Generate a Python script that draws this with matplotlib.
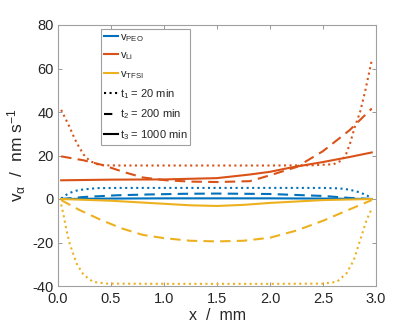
import matplotlib
matplotlib.use('Agg')
import matplotlib.pyplot as plt
from matplotlib.lines import Line2D

plt.rcParams['font.family'] = ['Liberation Sans', 'DejaVu Sans']
plt.rcParams['mathtext.fontset'] = 'custom'
plt.rcParams['mathtext.rm'] = 'Liberation Sans'
plt.rcParams['mathtext.it'] = 'Liberation Sans'

blue = '#0072BD'
orange = '#D95319'
yellow = '#EDB120'

# Li velocity
x_li_1 = [0.03, 0.08, 0.11, 0.15, 0.18, 0.24, 0.30, 0.37, 0.43, 0.6, 1.0, 1.5, 2.0, 2.4, 2.6, 2.68, 2.72, 2.755, 2.80, 2.85, 2.896, 2.93, 2.96]
v_li_1 = [41.0, 36.0, 33.0, 28.5, 25.5, 20.5, 17.5, 16.0, 15.5, 15.4, 15.4, 15.4, 15.4, 15.5, 16.0, 17.8, 20.9, 25.5, 33.1, 40.0, 49.2, 56.9, 63.8]
x_li_2 = [0.03, 0.24, 0.43, 0.62, 0.80, 1.02, 1.25, 1.5, 1.81, 2.0, 2.25, 2.5, 2.75, 2.96]
v_li_2 = [19.6, 17.8, 15.5, 12.4, 9.9, 8.6, 8.0, 7.8, 8.2, 10.9, 14.7, 22.0, 31.6, 41.6]
x_li_3 = [0.03, 0.5, 1.0, 1.5, 1.8, 2.0, 2.2, 2.5, 2.75, 2.96]
v_li_3 = [8.6, 8.9, 9.0, 9.6, 11.2, 12.5, 14.5, 17.0, 19.3, 21.4]

# PEO velocity
x_peo_1 = [0.03, 0.07, 0.11, 0.17, 0.24, 0.37, 0.6, 1.5, 2.5, 2.65, 2.75, 2.85, 2.92, 2.96]
v_peo_1 = [0.2, 1.7, 2.8, 3.8, 4.4, 5.0, 5.1, 5.1, 5.1, 4.9, 4.3, 3.0, 1.5, 0.0]
x_peo_2 = [0.03, 0.24, 0.55, 0.87, 1.2, 1.5, 2.0, 2.5, 2.75, 2.96]
v_peo_2 = [0.0, 0.9, 1.7, 2.1, 2.4, 2.5, 2.3, 1.4, 0.5, 0.0]
x_peo_3 = [0.03, 0.5, 1.0, 1.5, 2.0, 2.5, 2.96]
v_peo_3 = [0.0, 0.2, 0.3, 0.3, 0.3, 0.2, 0.0]

# TFSI velocity
x_tfsi_1 = [0.03, 0.05, 0.08, 0.11, 0.176, 0.24, 0.33, 0.46, 1.0, 1.5, 2.0, 2.5, 2.63, 2.72, 2.79, 2.85, 2.91, 2.96]
v_tfsi_1 = [-2.5, -6.7, -14.4, -20.5, -29.7, -34.8, -38.1, -38.9, -39.0, -39.0, -39.0, -38.9, -38.1, -34.3, -28.2, -19.0, -9.8, -4.4]
x_tfsi_2 = [0.03, 0.2, 0.4, 0.6, 0.8, 1.0, 1.25, 1.5, 1.75, 2.0, 2.25, 2.5, 2.75, 2.96]
v_tfsi_2 = [-0.5, -5.0, -9.5, -13.5, -16.5, -18.0, -19.2, -19.5, -19.2, -17.8, -14.5, -10.0, -4.8, -0.5]
x_tfsi_3 = [0.03, 0.5, 1.0, 1.25, 1.5, 1.75, 2.0, 2.5, 2.96]
v_tfsi_3 = [0.0, -0.8, -2.2, -2.9, -3.2, -2.7, -1.8, -0.5, 0.0]

xticks = [0.0, 0.5, 1.0, 1.5, 2.0, 2.5, 3.0]
yticks = [-40, -20, 0, 20, 40, 60, 80]

fig = plt.figure(figsize=(4.15, 3.29), dpi=100)
ax = fig.add_axes([58/415, 1-286/329, 318/415, 261/329])

lw = 1.5
dash = (5, 3)
ax.plot(x_peo_1, v_peo_1, color=blue, lw=lw, ls=':')
ax.plot(x_peo_2, v_peo_2, color=blue, lw=lw, dashes=dash)
ax.plot(x_peo_3, v_peo_3, color=blue, lw=lw)
ax.plot(x_li_1, v_li_1, color=orange, lw=lw, ls=':')
ax.plot(x_li_2, v_li_2, color=orange, lw=lw, dashes=dash)
ax.plot(x_li_3, v_li_3, color=orange, lw=lw)
ax.plot(x_tfsi_1, v_tfsi_1, color=yellow, lw=lw, ls=':')
ax.plot(x_tfsi_2, v_tfsi_2, color=yellow, lw=lw, dashes=dash)
ax.plot(x_tfsi_3, v_tfsi_3, color=yellow, lw=lw)

ax.set_xlim(0, 3)
ax.set_ylim(-40, 80)
ax.set_xticks(xticks)
ax.set_xticklabels(['%.1f' % t for t in xticks])
ax.set_yticks(yticks)
ax.set_yticklabels([str(t) for t in yticks])
ax.tick_params(direction='in', top=True, right=True, length=3, width=0.6,
               colors='#262626', labelsize=10.5, color='#888888')
ax.tick_params(axis='x', pad=4.5)
ax.tick_params(axis='y', pad=3)
for s in ax.spines.values():
    s.set_color('#a0a0a0')
    s.set_linewidth(0.8)

ax.set_xlabel('x  /  mm', fontsize=11.5, color='#262626', labelpad=1)
ax.set_ylabel(r'v$_{\alpha}$  /  nm s$^{-1}$', fontsize=12.5, color='#262626', labelpad=3)

handles = [
    Line2D([], [], color=blue, lw=lw),
    Line2D([], [], color=orange, lw=lw),
    Line2D([], [], color=yellow, lw=lw),
    Line2D([], [], color='black', lw=lw, ls=':'),
    Line2D([], [], color='black', lw=lw, dashes=(4, 8)),
    Line2D([], [], color='black', lw=lw),
]
labels = [r'v$_{\mathrm{PEO}}$', r'v$_{\mathrm{Li}}$', r'v$_{\mathrm{TFSI}}$',
          r't$_{1}$ = 20 min', r't$_{2}$ = 200 min', r't$_{3}$ = 1000 min']
leg = fig.legend(handles, labels, loc='upper left',
                 bbox_to_anchor=(101/415, 1-29/329), bbox_transform=fig.transFigure,
                 fontsize=8, handlelength=1.3, handletextpad=0.15,
                 labelspacing=0.6, borderpad=0.25, borderaxespad=0,
                 fancybox=False, framealpha=1)
leg.get_frame().set_edgecolor('#a0a0a0')
leg.get_frame().set_linewidth(0.8)
for t in leg.get_texts():
    t.set_color('#262626')

fig.savefig('out.png', dpi=100)
